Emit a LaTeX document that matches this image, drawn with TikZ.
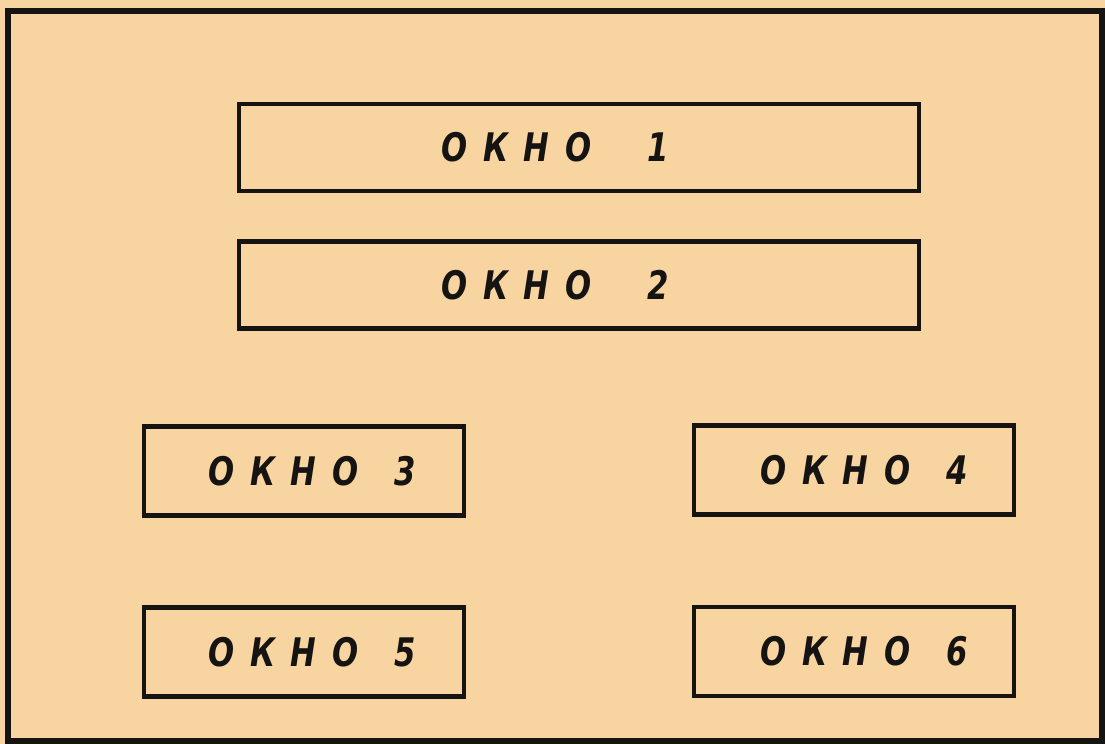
\documentclass[tikz,border=0pt]{standalone}
\usepackage{fontspec}
\usetikzlibrary{positioning}
\newfontfamily\stencilfont[LetterSpace=40,FakeStretch=0.78]{DejaVu Sans}
\definecolor{paper}{HTML}{F8D4A0}
\definecolor{ink}{HTML}{161412}
\tikzset{
  % window box, drawn with a thick ink line
  okno/.style={draw=ink, line width=1.1mm, inner sep=0pt, text=ink,
    font=\stencilfont\bfseries\itshape\fontsize{28}{30}\selectfont},
  wide/.style={okno, minimum width=170mm, minimum height=21.8mm},
  narrow/.style={okno, minimum width=80mm, minimum height=22.2mm},
}
\newcommand{\oknolabel}[2][9mm]{ОКНО\hspace{#1}#2}

\begin{document}
\begin{tikzpicture}[x=0.25mm,y=0.25mm]
  \fill[paper] (0,0) rectangle (1105,744);
  \useasboundingbox (0,0) rectangle (1105,744);
  \draw[ink, line width=1.7mm] (8,3) rectangle (1102,733);

  \node[wide]   (w1) at (579,596.5) {\oknolabel[14mm]{1}\hspace*{12mm}};
  \node[wide]   (w2) at (579,459)   {\oknolabel[14mm]{2}\hspace*{12mm}};
  \node[narrow] (w3) at (304,273)   {\hspace{4mm}\oknolabel{3}};
  \node[narrow] (w4) at (854,274)   {\hspace{5mm}\oknolabel{4}};
  \node[narrow] (w5) at (304,92)    {\hspace{4mm}\oknolabel{5}};
  \node[narrow] (w6) at (854,92.5)  {\hspace{5mm}\oknolabel{6}};
\end{tikzpicture}
\end{document}
